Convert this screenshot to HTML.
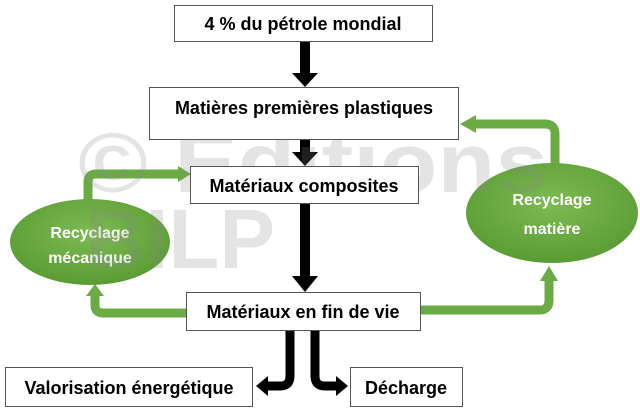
<!DOCTYPE html>
<html><head><meta charset="utf-8"><style>
body{margin:0;background:#fff;}
svg{display:block;font-family:"Liberation Sans",sans-serif;}
</style></head><body>
<svg width="640" height="412" viewBox="0 0 640 412" xmlns="http://www.w3.org/2000/svg">
<defs>
<radialGradient id="g" cx="50%" cy="40%" r="60%">
<stop offset="0" stop-color="#7dbb52"/><stop offset="1" stop-color="#5a9c33"/></radialGradient>
</defs>
<g fill="none" stroke="#6aab44" stroke-width="9" stroke-linejoin="round">
<path d="M88 202 V182 Q88 174 96 174 H180"/>
<path d="M186 313 H103 Q95 313 95 305 V296"/>
<path d="M555 166 V134 Q555 124 545 124 H475"/>
<path d="M420 310 H540 Q549 310 549 300 V280"/>
</g>
<g fill="#6aab44">
<polygon points="178,166 191,174 178,182"/>
<polygon points="86,296 95,284 104,296"/>
<polygon points="476,115 460,124 476,133"/>
<polygon points="540,281 549,266 558,281"/>
</g>
<ellipse cx="90" cy="242" rx="80" ry="43" fill="url(#g)"/>
<ellipse cx="552" cy="213" rx="86" ry="50" fill="url(#g)"/>
<g fill="#fff" font-weight="bold" font-size="16" text-anchor="middle">
<text x="90" y="238">Recyclage</text><text x="90" y="263">mécanique</text>
<text x="552" y="205">Recyclage</text><text x="552" y="234">matière</text>
</g>
<g fill="#000">
<rect x="300" y="41" width="10" height="34"/><polygon points="292,73 318,73 305,87"/>
<rect x="300" y="139" width="10" height="15"/><polygon points="292,152 318,152 305,166"/>
<rect x="300" y="203" width="10" height="75"/><polygon points="292,276 318,276 305,292"/>
</g>
<g fill="none" stroke="#000" stroke-width="9">
<path d="M290 330 V376 Q290 386 280 386 H266"/>
<path d="M315 330 V376 Q315 386 325 386 H338"/>
</g>
<polygon points="268,376 268,396 256,386" fill="#000"/>
<polygon points="336,376 336,396 348,386" fill="#000"/>
<g fill="#888" font-weight="bold" opacity="0.22">
<text x="78" y="192" font-size="84" textLength="470" lengthAdjust="spacingAndGlyphs">© Editions</text>
<text x="85" y="268" font-size="84" textLength="190" lengthAdjust="spacingAndGlyphs">BILP</text>
</g>
<g fill="#fff" stroke="#555" stroke-width="1">
<rect x="174.5" y="5.5" width="258" height="36"/>
<rect x="149.5" y="87.5" width="309" height="52"/>
<rect x="190.5" y="166.5" width="228" height="37"/>
<rect x="186.5" y="292.5" width="234" height="38"/>
<rect x="5.5" y="367.5" width="247" height="39"/>
<rect x="350.5" y="367.5" width="112" height="39"/>
</g>
<g fill="#000" font-weight="bold" font-size="18" text-anchor="middle">
<text x="303" y="30">4 % du pétrole mondial</text>
<text x="304" y="114">Matières premières plastiques</text>
<text x="304" y="192">Matériaux composites</text>
<text x="303" y="318">Matériaux en fin de vie</text>
<text x="129" y="394">Valorisation énergétique</text>
<text x="406" y="394">Décharge</text>
</g>
</svg>
</body></html>
